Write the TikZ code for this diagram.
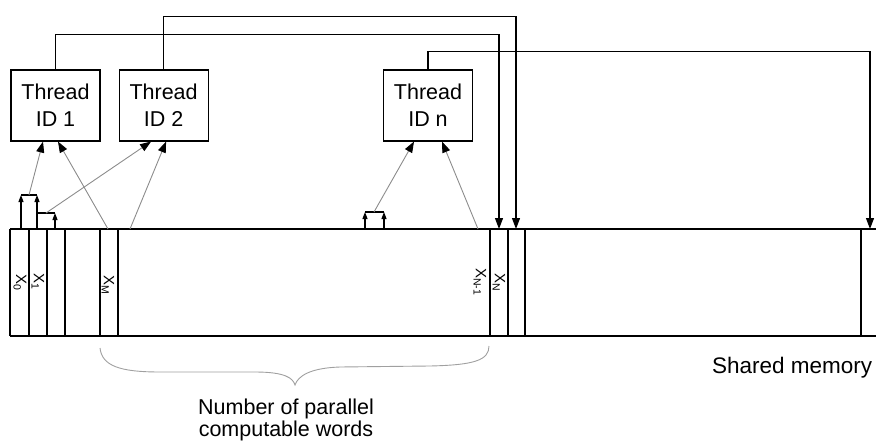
\documentclass[tikz,border=0pt]{standalone}
\usepackage{fontspec}
\setmainfont{Liberation Sans}
\usepackage{xcolor}
\usetikzlibrary{positioning,arrows.meta}
\definecolor{ptrgray}{HTML}{8C8C8C}
\definecolor{bracegray}{HTML}{A0A0A0}

\begin{document}
\begin{tikzpicture}[x=1pt,y=-1pt,
  thr/.style={draw,line width=1.1pt,minimum width=89pt,minimum height=71pt,inner sep=0pt,align=center,font=\fontsize{21.5}{27}\selectfont},
  arr/.style={-{Triangle[length=11pt,width=8pt]},line width=1.2pt},
  upar/.style={-{Triangle[length=7pt,width=5pt]},line width=1.1pt},
  ptr/.style={-{Triangle[length=11pt,width=8pt,color=black]},ptrgray,line width=0.9pt},
  xl/.style={rotate=-90,font=\fontsize{15}{15}\selectfont,inner sep=0pt}]
\useasboundingbox (0,0) rectangle (876,444);
% shared memory words
\draw[line width=1.2pt] (10,229) -- (876,229) (10,336) -- (876,336) (10,229) -- (10,336);
\foreach \x in {29,47,65,100,118,490,508,525,861}
  \draw[line width=1.2pt] (\x,229) -- (\x,336);
\node[xl] (x0) at (20,283) {X\textsubscript{0}};
\node[xl] (x1) at (38,282) {X\textsubscript{1}};
\node[xl] (xM) at (108,285) {X\textsubscript{M}};
\node[xl] (xN1) at (480,282) {X\textsubscript{N-1}};
\node[xl] (xN) at (499,283) {X\textsubscript{N}};
% threads
\node[thr] (t1) at (55.5,105.5) {Thread\\ID 1};
\node[thr,right=18pt of t1] (t2) {Thread\\ID 2};
\node[thr] (tn) at (428,105.5) {Thread\\ID n};
% write back
\coordinate (m1) at (499,229);
\coordinate (m2) at (516,229);
\coordinate (m3) at (870,229);
\draw[arr] (t1.north) -- ++(0,-35) -| (m1);
\draw[arr] (t2.north) -- ++(0,-53) -| (m2);
\draw[arr] (tn.north) -- ++(0,-18) -| (m3);
% word pairs
\draw[upar] (21,229) -- (21,195); \draw[upar] (37,229) -- (37,195); \draw[line width=1.1pt] (21,195) -- (37,195);
\draw[upar] (55,229) -- (55,213); \draw[line width=1.1pt] (37,213) -- (55,213);
\draw[upar] (365,229) -- (365,212); \draw[upar] (384,229) -- (384,212); \draw[line width=1.1pt] (365,212) -- (384,212);
\coordinate (g01) at (29,195);
\coordinate (g12) at (46,213);
\coordinate (gn) at (374,212);
\coordinate (wm) at (108,229);
\coordinate (wk) at (130,229);
\coordinate (wn) at (478,229);
\draw[ptr] (g01) -- ([xshift=-12.5pt]t1.south);
\draw[ptr] (wm) -- ([xshift=2.5pt]t1.south);
\draw[ptr] (g12) -- ([xshift=-12.5pt]t2.south);
\draw[ptr] (wk) -- ([xshift=2.5pt]t2.south);
\draw[ptr] (gn) -- ([xshift=-14pt]tn.south);
\draw[ptr] (wn) -- ([xshift=14pt]tn.south);
% brace
\draw[bracegray,line width=0.9pt] (100,348) .. controls (102,366) and (120,372) .. (160,372) -- (255,372)
  .. controls (285,372) and (293,378) .. (295,385) .. controls (298,376) and (310,368) .. (340,367)
  -- (430,366) .. controls (475,365) and (489,360) .. (489,346);
\node[align=center,anchor=north,inner sep=0pt,font=\fontsize{21.5}{22}\selectfont] (cap) at (286,399) {Number of parallel\\computable words};
\node[anchor=base west,inner sep=0pt,font=\fontsize{22.5}{22}\selectfont] (sm) at (712,373) {Shared memory};
\end{tikzpicture}
\end{document}
